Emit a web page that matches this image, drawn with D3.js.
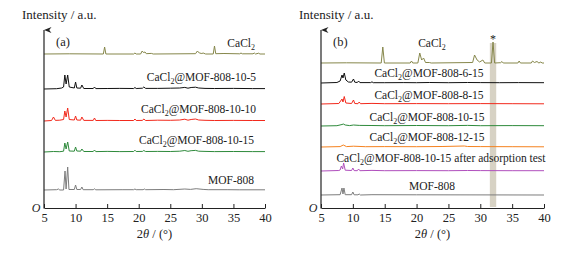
<!DOCTYPE html>
<html>
<head>
<meta charset="utf-8">
<script src="https://cdn.jsdelivr.net/npm/d3@7"></script>
<style>
  body { margin: 0; background: #fff; }
  svg text { font-family: "Liberation Serif", "Times New Roman", serif; fill: #222; }
</style>
</head>
<body>
<div id="viz"></div>
<script>
// x ticks (2θ, degrees)
const xTicks = [5, 10, 15, 20, 25, 30, 35, 40];

// ---- panel (a) patterns: [2θ, intensity a.u.] ----
const cacl2A = [[5,0],[9,0.2],[14.4,0],[14.6,7],[14.8,0],[19.2,0],[19.4,1],[19.6,0],[20.3,0],[20.55,3],[20.75,1.5],[21.0,2],[21.2,0.3],[22,0.6],[22.3,0],[29.0,0.3],[29.3,3],[29.6,1],[30.0,0.5],[30.2,1],[30.6,0],[31.8,0],[32.0,8],[32.2,0.3],[33.5,0.5],[36.0,0.2],[36.2,1],[36.4,0.2],[38.1,0.2],[38.3,1],[38.5,0],[39.0,0.8],[39.2,0],[40,0]];
const mof10_5A = [[5,0],[7,0.3],[7.8,1],[8.1,2],[8.3,14],[8.5,5],[8.75,14],[9.0,2],[9.8,1],[10.0,7],[10.2,1],[10.8,0.8],[11.0,4],[11.3,0.5],[12.8,0.5],[13.0,2],[13.2,0.4],[15,0.5],[17,0.6],[19.2,0.5],[19.4,1.5],[19.6,0.5],[20.6,0.8],[20.8,2],[21.1,0.6],[23,0.6],[25,0.8],[26.5,1],[27.3,1.6],[27.8,0.8],[28.3,1.5],[29.0,1.8],[29.5,1],[30.5,0.6],[32,0.5],[35,0.6],[38,0.4],[40,0.4]];
const mof10_10A = [[5,0],[6.2,0.5],[6.5,4],[6.8,0.6],[7.5,0.8],[8.1,1.5],[8.3,10],[8.5,4],[8.75,13],[9.0,1.5],[9.8,1],[10.0,5],[10.2,1],[10.8,0.8],[11.0,4],[11.3,0.6],[12.8,0.6],[13.0,3],[13.2,0.5],[15,0.6],[17,0.5],[19.2,0.5],[19.4,2],[19.6,0.5],[20.6,0.6],[20.8,2],[21.1,0.5],[23,0.8],[25,0.7],[26.5,1],[27.3,1.8],[27.8,0.8],[28.3,1.5],[29.0,2],[29.5,1],[30.5,0.7],[32,0.5],[35,0.6],[38,0.5],[40,0.5]];
const mof10_15A = [[5,0],[6.5,0.5],[7.5,0.3],[8.1,0.8],[8.3,9],[8.5,3],[8.75,10],[9.0,1],[9.8,0.8],[10.0,5],[10.2,1],[10.8,0.8],[11.0,3],[11.3,0.5],[12.8,0.5],[13.0,2],[13.2,0.4],[15,0.6],[17,0.4],[19.2,0.5],[19.4,1.8],[19.6,0.5],[20.6,0.6],[20.8,1.5],[21.1,0.5],[23,0.6],[25,0.5],[26.5,0.8],[27.3,1.5],[27.8,0.7],[28.3,1.3],[29.0,1.6],[29.5,0.8],[30.5,0.6],[32,0.4],[35,0.5],[38,0.4],[40,0.4]];
const mof808A = [[5,0],[7,0.3],[7.3,1],[7.5,0],[8.1,0],[8.33,19],[8.5,1],[8.75,23],[8.95,0.5],[9.8,0.5],[10.0,5],[10.2,0.5],[10.8,0.5],[11.0,3],[11.2,0.3],[12.8,0.3],[13.0,1.2],[13.2,0.2],[17.5,0.3],[19.2,0.3],[19.4,1],[19.6,0.3],[20.7,0.3],[20.9,1],[21.1,0.3],[24,0.5],[25.5,0.3],[27.3,1],[28.2,0.6],[29.1,1.3],[30.2,0.6],[31,0.3],[34,0.3],[36,0.2],[40,0.2]];

const namesA = ['CaCl₂', 'CaCl₂@MOF-808-10-5', 'CaCl₂@MOF-808-10-10', 'CaCl₂@MOF-808-10-15', 'MOF-808'];
const offsetsA = [154, 119, 87, 56, 18];   // stacking offset, a.u.

// ---- panel (b) patterns ----
const cacl2B = [[5,0],[9,0.2],[14.45,0],[14.7,16],[14.95,0],[19.0,0],[19.2,2],[19.4,0],[20.2,0],[20.5,10],[20.8,3],[21.1,5],[21.4,0.5],[22,0.5],[22.3,0],[28.8,0.5],[29.1,8],[29.5,3],[29.9,1],[30.4,3],[30.7,0],[31.75,0],[32.0,21],[32.25,0],[33.2,0.3],[33.4,1.5],[33.6,0],[35.9,0],[36.1,2],[36.3,0],[38.0,0],[38.2,2],[38.5,0.5],[38.9,1.5],[39.2,0],[39.5,1],[39.7,0],[40,0]];
const mof6_15B = [[5,0],[7.5,0.5],[8.0,2],[8.3,8],[8.45,5],[8.65,10],[8.9,3],[9.3,1],[9.8,0.8],[10.1,4],[10.3,0.8],[10.7,0.5],[10.9,2],[11.1,0.4],[12.8,0.4],[13.0,1.2],[13.2,0.3],[15,0.3],[18,0.4],[20,0.3],[22,0.5],[25,0.3],[28,0.5],[30,0.4],[33,0.3],[36,0.4],[40,0.3]];
const mof8_15B = [[5,0],[7.8,0.5],[8.3,5],[8.45,2],[8.65,7.5],[8.9,1],[9.8,0.5],[10.1,4],[10.3,0.5],[10.8,0.3],[11.0,2],[11.2,0.3],[13,0.6],[15,0.3],[20,0.4],[25,0.3],[30,0.4],[35,0.3],[40,0.2]];
const mof10_15B = [[5,0],[7.5,0.3],[8.3,1.5],[8.5,2],[8.8,1],[9.5,0.4],[10.1,1],[11,0.6],[13,0.5],[15,0.3],[20,0.5],[25,0.3],[28,0.6],[30,0.3],[35,0.4],[40,0.3]];
const mof12_15B = [[5,0],[8.0,0.4],[8.5,2],[9.0,0.4],[10.1,0.8],[12,0.3],[15,0.4],[20,0.3],[24,0.5],[27.5,1],[28,0.5],[30,0.4],[35,0.3],[40,0.2]];
const afterTestB = [[5,0],[7.8,0.5],[8.0,1],[8.2,5],[8.4,2],[8.55,8],[8.8,0.8],[9.8,0.5],[10.0,3],[10.2,0.4],[10.7,0.3],[10.9,2],[11.1,0.3],[13,0.6],[15,0.3],[20,0.4],[25,0.3],[28,0.5],[30,0.4],[35,0.3],[40,0.3]];
const mof808B = [[5,0],[8.0,0.3],[8.3,7],[8.45,1],[8.6,7],[8.8,0.3],[9.8,0.3],[10.0,3],[10.2,0.2],[10.8,0.2],[11.0,1],[11.2,0],[13,0.3],[20,0.2],[40,0]];

const namesB = ['CaCl₂', 'CaCl₂@MOF-808-6-15', 'CaCl₂@MOF-808-8-15', 'CaCl₂@MOF-808-10-15', 'CaCl₂@MOF-808-12-15', 'CaCl₂@MOF-808-10-15 after adsorption test', 'MOF-808'];
const offsetsB = [145, 125, 104, 82, 61, 37, 13];

const bandB = [31.5, 32.5];   // highlighted CaCl2 reflection (*)

const colors = {
  olive: '#86874b', black: '#111', red: '#f2291c', green: '#2e8a3b',
  gray: '#7d7d7d', orange: '#f5821f', purple: '#b04fbd'
};

const FONT = '"Liberation Serif", "Times New Roman", serif';

const svg = d3.select('#viz').append('svg')
  .attr('width', 584)
  .attr('height', 254)
  .style('font-family', FONT);

svg.append('defs').append('marker')
  .attr('id', 'arrow')
  .attr('viewBox', '0 0 8 10')
  .attr('refX', 4).attr('refY', 0)
  .attr('markerWidth', 6).attr('markerHeight', 9)
  .attr('markerUnits', 'userSpaceOnUse')
  .attr('orient', 'auto-start-reverse')
  .append('path')
  .attr('d', 'M0,10 L4,0 L8,10 L4,7 Z')
  .attr('fill', '#222');

function writeLabel(g, x, y, name, anchor) {
  // CaCl₂ rendered with a real subscript tspan
  const t = g.append('text')
    .attr('x', x).attr('y', y)
    .attr('text-anchor', anchor)
    .style('font-family', FONT)
    .style('font-size', '11.5px');
  const parts = name.split('₂');
  if (parts.length > 1) {
    t.append('tspan').text(parts[0]);
    t.append('tspan').attr('dy', 3).style('font-size', '8px').text('2');
    t.append('tspan').attr('dy', -3).text(parts[1]);
  } else {
    t.text(name);
  }
}

function drawPanel(cfg) {
  const g = svg.append('g');
  const x = d3.scaleLinear().domain([5, 40]).range([cfg.left, cfg.right]);
  const y = d3.scaleLinear().domain([0, 180]).range([208, 28]);

  if (cfg.band) {
    g.append('rect')
      .attr('x', x(cfg.band[0]))
      .attr('width', x(cfg.band[1]) - x(cfg.band[0]))
      .attr('y', y(165))
      .attr('height', y(1) - y(165))
      .attr('fill', '#d7d2c4');
    g.append('text')
      .attr('x', x((cfg.band[0] + cfg.band[1]) / 2))
      .attr('y', y(165) - 0.5)
      .attr('text-anchor', 'middle')
      .style('font-size', '12px')
      .text('*');
  }

  cfg.series.forEach((s, i) => {
    const line = d3.line()
      .x(d => x(d[0]))
      .y(d => y(d[1] + cfg.offsets[i]));
    g.append('path')
      .datum(s.data)
      .attr('d', line)
      .attr('fill', 'none')
      .attr('stroke', s.color)
      .attr('stroke-width', 1)
      .attr('stroke-linejoin', 'round');
    writeLabel(g, cfg.labelX[i], y(cfg.offsets[i]) - cfg.labelGap[i], cfg.names[i], cfg.anchor);
  });

  // y axis with arrow
  g.append('line')
    .attr('x1', x(5)).attr('x2', x(5))
    .attr('y1', y(0) + 0.5).attr('y2', y(180) + 2)
    .attr('stroke', '#222')
    .attr('stroke-width', 1.2)
    .attr('marker-end', 'url(#arrow)');

  // x axis
  const xAxis = g.append('g')
    .attr('transform', `translate(0, ${y(0)})`)
    .call(d3.axisBottom(x).tickValues(xTicks).tickSize(-4).tickSizeOuter(0).tickPadding(5))
    .attr('font-family', null);
  xAxis.select('.domain').attr('stroke', '#222').attr('stroke-width', 1.2);
  xAxis.selectAll('.tick line').attr('stroke', '#222');
  xAxis.selectAll('.tick text')
    .style('font-size', '12.5px')
    .style('font-family', FONT)
    .attr('fill', '#222');

  g.append('text')
    .attr('x', x(5) - 8).attr('y', y(0) + 4)
    .attr('text-anchor', 'middle')
    .style('font-size', '12px')
    .style('font-style', 'italic')
    .text('O');

  const xl = g.append('text')
    .attr('x', (x(5) + x(40)) / 2)
    .attr('y', 238)
    .attr('text-anchor', 'middle')
    .style('font-size', '12.5px');
  xl.append('tspan').text('2');
  xl.append('tspan').style('font-style', 'italic').text('θ');
  xl.append('tspan').text(' / (°)');

  g.append('text')
    .attr('x', cfg.left - 22).attr('y', 19)
    .style('font-size', '13px')
    .text('Intensity / a.u.');

  g.append('text')
    .attr('x', cfg.left + 12).attr('y', 46)
    .style('font-size', '12.5px')
    .text(cfg.tag);
}

drawPanel({
  left: 44, right: 265, tag: '(a)', anchor: 'end',
  names: namesA, offsets: offsetsA,
  labelX: [255, 256, 256, 254, 254],
  labelGap: [7, 8, 8, 8, 6],
  series: [
    { data: cacl2A, color: colors.olive },
    { data: mof10_5A, color: colors.black },
    { data: mof10_10A, color: colors.red },
    { data: mof10_15A, color: colors.green },
    { data: mof808A, color: colors.gray }
  ]
});

drawPanel({
  left: 321, right: 544, tag: '(b)', anchor: 'middle', band: bandB,
  names: namesB, offsets: offsetsB,
  labelX: [432, 429, 429, 427, 427, 441, 432],
  labelGap: [16, 6, 5, 5, 6, 9, 5],
  series: [
    { data: cacl2B, color: colors.olive },
    { data: mof6_15B, color: colors.black },
    { data: mof8_15B, color: colors.red },
    { data: mof10_15B, color: colors.green },
    { data: mof12_15B, color: colors.orange },
    { data: afterTestB, color: colors.purple },
    { data: mof808B, color: colors.gray }
  ]
});
</script>
</body>
</html>
